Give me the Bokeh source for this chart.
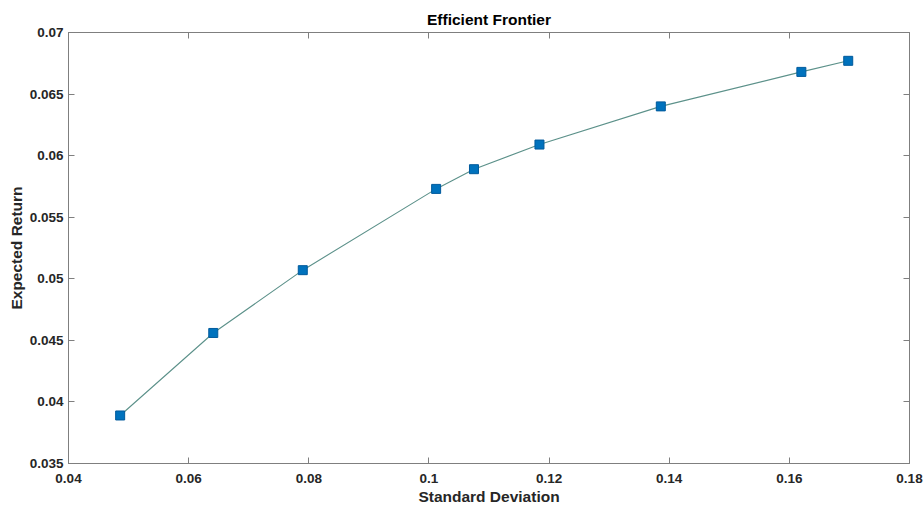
from bokeh.plotting import figure
from bokeh.models import LinearAxis, FixedTicker, Range1d, ColumnDataSource
from bokeh.embed import file_html
from bokeh.resources import INLINE

# Data
std_dev = [0.0486, 0.0641, 0.0790, 0.1012, 0.1075, 0.1184, 0.1386, 0.1620, 0.1698]
exp_ret = [0.0389, 0.0456, 0.0507, 0.0573, 0.0589, 0.0609, 0.0640, 0.0668, 0.0677]

x_ticks = [0.04, 0.06, 0.08, 0.1, 0.12, 0.14, 0.16, 0.18]
x_tick_labels = ["0.04", "0.06", "0.08", "0.1", "0.12", "0.14", "0.16", "0.18"]
y_ticks = [0.035, 0.04, 0.045, 0.05, 0.055, 0.06, 0.065, 0.07]
y_tick_labels = ["0.035", "0.04", "0.045", "0.05", "0.055", "0.06", "0.065", "0.07"]

src = ColumnDataSource(dict(x=std_dev, y=exp_ret))

FONT = "Liberation Sans"
AX = "#7f7f7f"
TXT = "#262626"

p = figure(width=923, height=507, output_backend="svg", toolbar_location=None,
           x_range=Range1d(0.04, 0.18), y_range=Range1d(0.035, 0.07),
           min_border_left=68, min_border_right=14, min_border_top=32, min_border_bottom=44,
           title="Efficient Frontier")
p.title.align = "center"
p.title.text_font = FONT
p.title.text_font_size = "15.5px"
p.title.text_font_style = "bold"
p.title.text_color = "#000000"
p.title.standoff = 10
p.title.offset = 0

p.grid.visible = False
p.outline_line_color = AX
p.outline_line_width = 1
p.background_fill_color = "white"
p.border_fill_color = "white"

p.line("x", "y", source=src, line_color="#5c918a", line_width=1.1)
p.scatter("x", "y", source=src, marker="square", size=9,
          fill_color="#0072BD", line_color="#005a9c", line_width=1)

def style(ax, ticks, labels, show_labels=True):
    ax.ticker = FixedTicker(ticks=ticks)
    ax.axis_line_color = AX
    ax.major_tick_line_color = AX
    ax.major_tick_in = 6
    ax.major_tick_out = 0
    ax.minor_tick_line_color = None
    ax.major_label_text_font = FONT
    ax.major_label_text_font_style = "bold"
    ax.major_label_text_color = TXT
    ax.axis_label_text_font = FONT
    ax.axis_label_text_font_style = "bold"
    ax.axis_label_text_color = TXT
    ax.axis_label_text_font_size = "15.5px"
    if show_labels:
        ax.major_label_overrides = {t: l for t, l in zip(ticks, labels)}
        ax.major_label_text_font_size = "13.5px"
        ax.major_label_standoff = 5
        ax.axis_label_standoff = 2
    else:
        ax.major_label_overrides = {t: "" for t in ticks}
        ax.major_label_text_font_size = "1px"
        ax.major_label_standoff = 0

style(p.xaxis[0], x_ticks, x_tick_labels)
style(p.yaxis[0], y_ticks, y_tick_labels)
p.xaxis[0].axis_label = "Standard Deviation"
p.yaxis[0].axis_label = "Expected Return"
p.xaxis[0].major_label_standoff = 10
p.xaxis[0].axis_label_standoff = 2

top = LinearAxis()
right = LinearAxis()
style(top, x_ticks, x_tick_labels, show_labels=False)
style(right, y_ticks, y_tick_labels, show_labels=False)
p.add_layout(top, "above")
p.add_layout(right, "right")

open("out.html", "w").write(file_html(p, INLINE))
